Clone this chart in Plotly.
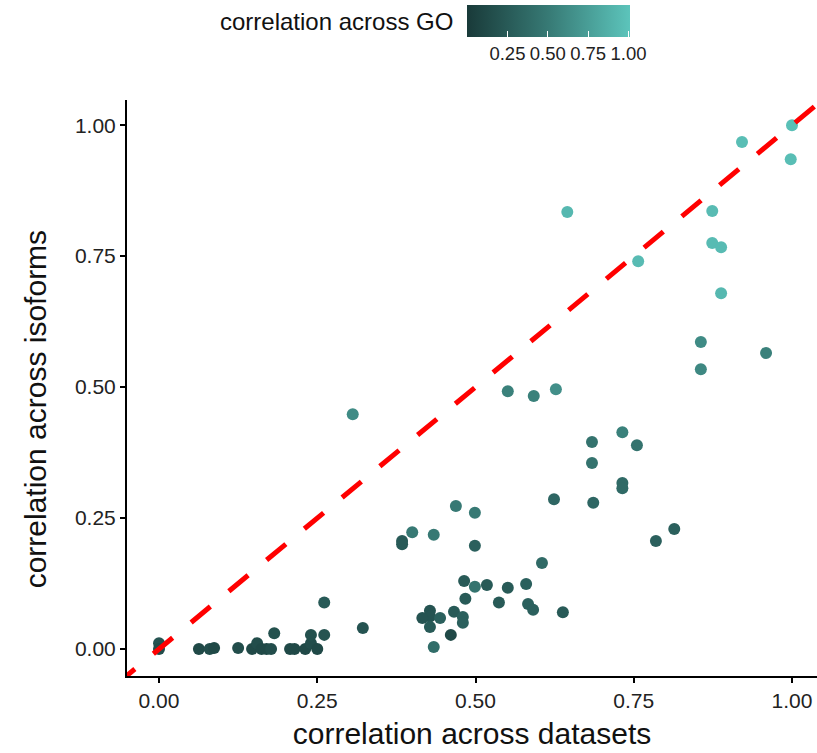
import plotly.graph_objects as go

# correlation across datasets (x), across isoforms (y), across GO (colour)
corr_datasets = [
    1.000, 0.921, 0.998, 0.645, 0.874, 0.874, 0.888, 0.757, 0.888,
    0.856, 0.856, 0.959, 0.306, 0.551, 0.592, 0.627,
    0.684, 0.732, 0.755, 0.684, 0.732, 0.732, 0.624, 0.686, 0.814, 0.785,
    0.469, 0.499, 0.400, 0.434, 0.384, 0.384, 0.499, 0.605,
    0.482, 0.499, 0.518, 0.551, 0.580, 0.484, 0.537, 0.583, 0.591, 0.638,
    0.428, 0.428, 0.416, 0.444, 0.428, 0.466, 0.480, 0.480, 0.461, 0.434,
    0.322, 0.261,
    0.000, 0.000, 0.063, 0.080, 0.087, 0.125, 0.147, 0.155, 0.162, 0.170, 0.177,
    0.182, 0.207, 0.214, 0.231, 0.240, 0.240, 0.250, 0.261,
]
corr_isoforms = [
    1.000, 0.968, 0.935, 0.834, 0.836, 0.775, 0.767, 0.740, 0.679,
    0.586, 0.534, 0.565, 0.448, 0.492, 0.483, 0.496,
    0.395, 0.414, 0.389, 0.355, 0.317, 0.307, 0.286, 0.279, 0.229, 0.206,
    0.273, 0.260, 0.223, 0.218, 0.206, 0.200, 0.197, 0.164,
    0.130, 0.119, 0.122, 0.117, 0.124, 0.096, 0.089, 0.086, 0.075, 0.070,
    0.073, 0.062, 0.059, 0.059, 0.042, 0.071, 0.061, 0.050, 0.027, 0.004,
    0.040, 0.089,
    0.011, 0.000, 0.000, 0.000, 0.002, 0.002, 0.000, 0.011, 0.000, 0.000, 0.000,
    0.030, 0.000, 0.000, 0.000, 0.011, 0.027, 0.000, 0.027,
]
corr_go = [
    0.98, 0.97, 0.97, 0.93, 0.95, 0.95, 0.95, 0.95, 0.93,
    0.62, 0.60, 0.55, 0.62, 0.55, 0.55, 0.65,
    0.45, 0.55, 0.45, 0.45, 0.38, 0.38, 0.35, 0.35, 0.30, 0.30,
    0.50, 0.50, 0.50, 0.50, 0.25, 0.25, 0.30, 0.38,
    0.25, 0.45, 0.25, 0.25, 0.30, 0.25, 0.25, 0.30, 0.30, 0.25,
    0.20, 0.20, 0.20, 0.30, 0.25, 0.25, 0.30, 0.30, 0.12, 0.40,
    0.20, 0.25,
    0.20, 0.15, 0.12, 0.15, 0.12, 0.15, 0.12, 0.15, 0.12, 0.12, 0.15,
    0.18, 0.12, 0.12, 0.12, 0.15, 0.18, 0.12, 0.20,
]

x_ticks = [0.0, 0.25, 0.5, 0.75, 1.0]
y_ticks = [0.0, 0.25, 0.5, 0.75, 1.0]
tick_text = ["0.00", "0.25", "0.50", "0.75", "1.00"]
cbar_ticks = [0.25, 0.5, 0.75, 1.0]
cbar_text = ["0.25", "0.50", "0.75", "1.00"]

x_range = [-0.0506, 1.0395]
y_range = [-0.0515, 1.048]

FONT = "Liberation Sans, Arial, sans-serif"
scale = [[0.0, "#193a39"], [0.5, "#377a75"], [1.0, "#5cc4bb"]]

fig = go.Figure()
fig.add_trace(go.Scatter(
    x=corr_datasets, y=corr_isoforms, mode="markers",
    marker=dict(
        size=12, color=corr_go, colorscale=scale, cmin=0.0, cmax=1.01,
        line=dict(width=0),
        colorbar=dict(
            orientation="h", thickness=32, len=163, lenmode="pixels",
            x=0.611, xanchor="center", y=1.165, yanchor="top", ypad=0, xpad=0,
            outlinewidth=0, tickvals=cbar_ticks, ticktext=cbar_text,
            ticks="inside", ticklen=6, tickcolor="white", tickwidth=1,
            tickfont=dict(family=FONT, size=18.5, color="#222"),
        ),
    ),
    showlegend=False, hoverinfo="x+y",
))

# identity reference line y = x (dash phase offset at start)
line_x = [x_range[0] - 0.018, x_range[1] + 0.02]
fig.add_trace(go.Scatter(
    x=line_x, y=line_x, mode="lines",
    line=dict(color="#ff0000", width=5, dash="25px,24px"),
    showlegend=False, hoverinfo="skip",
))

fig.add_annotation(
    text="correlation across GO", xref="paper", yref="paper",
    x=0.4754, y=1.137, xanchor="right", yanchor="middle", showarrow=False,
    font=dict(family=FONT, size=24, color="#111"),
)
fig.add_annotation(
    text="correlation across isoforms", xref="paper", yref="paper",
    x=-0.1333, y=0.463, xanchor="center", yanchor="middle", showarrow=False,
    textangle=-90, font=dict(family=FONT, size=30, color="#111"),
)

axis_common = dict(
    showgrid=False, zeroline=False, showline=True, linecolor="black", linewidth=2,
    ticks="outside", ticklen=5, tickwidth=1.5, tickcolor="black",
    tickfont=dict(family=FONT, size=21, color="#222"),
)
fig.update_xaxes(
    range=x_range, tickvals=x_ticks, ticktext=tick_text,
    title=dict(text="correlation across datasets", font=dict(family=FONT, size=30, color="#111"), standoff=12),
    **axis_common,
)
fig.update_yaxes(
    range=y_range, tickvals=y_ticks, ticktext=tick_text,
    **axis_common,
)

fig.update_layout(
    width=817, height=753,
    margin=dict(l=127, r=0, t=100, b=77),
    plot_bgcolor="white", paper_bgcolor="white",
    font=dict(family=FONT),
)

fig.write_html("out.html")
